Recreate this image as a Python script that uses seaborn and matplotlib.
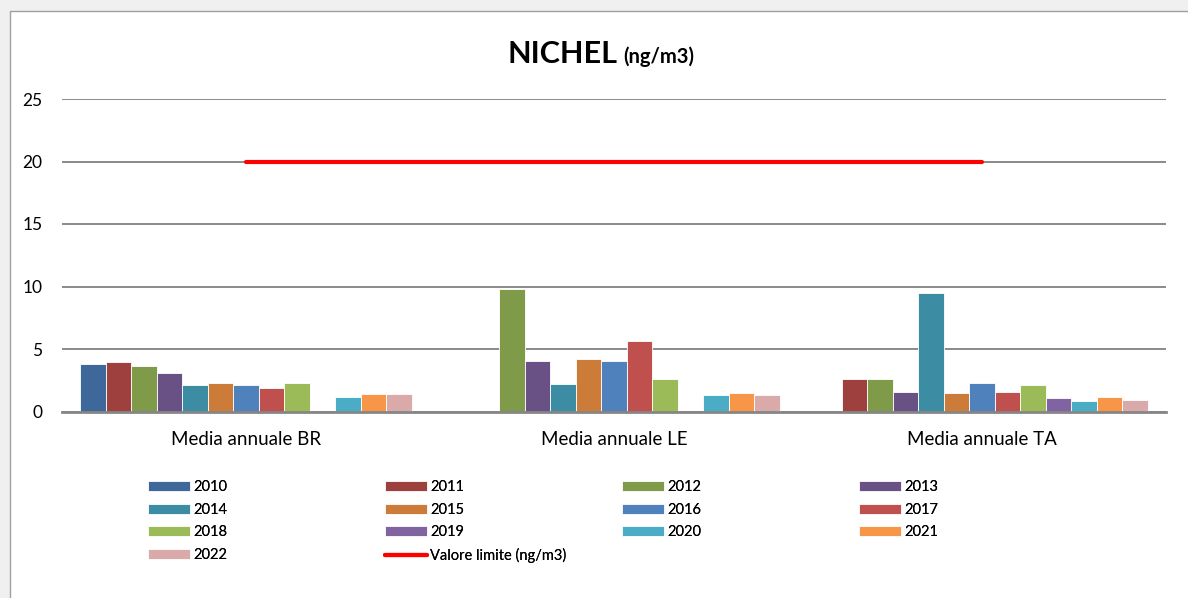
import numpy as np
import pandas as pd
import matplotlib
matplotlib.use("Agg")
import matplotlib.pyplot as plt
from matplotlib.patches import Rectangle
from matplotlib.lines import Line2D
import seaborn as sns

# ---------------- data ----------------
categories = ["Media annuale BR", "Media annuale LE", "Media annuale TA"]
years = ["2010", "2011", "2012", "2013", "2014", "2015", "2016",
         "2017", "2018", "2019", "2020", "2021", "2022"]
nan = np.nan
values_br = [3.8, 4.0, 3.65, 3.05, 2.15, 2.25, 2.15, 1.9, 2.25, nan, 1.15, 1.4, 1.4]
values_le = [nan, nan, 9.8, 4.05, 2.2, 4.2, 4.05, 5.65, 2.6, nan, 1.3, 1.45, 1.3]
values_ta = [nan, 2.6, 2.6, 1.6, 9.5, 1.45, 2.3, 1.6, 2.1, 1.1, 0.85, 1.2, 0.95]
limit_values = [20, 20, 20]
limit_label = "Valore limite (ng/m3)"
colors = ["#3F689A", "#9E413E", "#7F9A48", "#695185", "#3C8DA3", "#CC7B38",
          "#4F81BD", "#C0504D", "#9BBB59", "#8064A2", "#4BACC6", "#F79646",
          "#D9AAA9"]

rows = []
for cat, vals in zip(categories, [values_br, values_le, values_ta]):
    for yr, v in zip(years, vals):
        rows.append({"cat": cat, "year": yr, "val": v})
df = pd.DataFrame(rows)

# ---------------- style ----------------
sns.set_theme(style="white")
plt.rcParams["font.family"] = ["Lato", "DejaVu Sans"]
plt.rcParams["text.color"] = "black"

W, H = 1188, 598
fig = plt.figure(figsize=(W / 100, H / 100), dpi=100)
fig.patch.set_facecolor("#f0f0f0")
# white chart area with grey border
fig.patches.append(Rectangle((10 / W, -0.05), 1.2, (H - 11) / H + 0.05,
                             transform=fig.transFigure, facecolor="white",
                             edgecolor="#a0a0a0", linewidth=1.0, zorder=-10))

ax = fig.add_axes([62 / W, (H - 411.5) / H, (1166 - 62) / W, (411.5 - 99) / H])
ax.set_facecolor("none")

sns.barplot(data=df, x="cat", y="val", hue="year", hue_order=years,
            order=categories, palette=colors, saturation=1, width=0.9,
            errorbar=None, edgecolor="white", linewidth=0.6, ax=ax)
handles, labels = ax.get_legend_handles_labels()

sns.pointplot(x=categories, y=limit_values, color="#ff0000", markers="",
              linestyles="-", linewidth=3.0, ax=ax)
if ax.get_legend() is not None:
    ax.get_legend().remove()

ax.set_ylim(0, 25)
ax.set_xlim(-0.5, 2.5)
ax.set_yticks([0, 5, 10, 15, 20, 25])
ax.yaxis.grid(True, color="#8a8a8a", linewidth=1.4)
ax.set_axisbelow(True)
for s in ["left", "right", "top"]:
    ax.spines[s].set_visible(False)
ax.spines["bottom"].set_color("#868686")
ax.spines["bottom"].set_linewidth(2)
ax.tick_params(axis="both", length=0)
ax.tick_params(axis="y", pad=14, labelsize=12.5, labelcolor="black")
ax.tick_params(axis="x", pad=14, labelsize=13.5, labelcolor="black")
ax.set_xlabel("")
ax.set_ylabel("")

# ---------------- title ----------------
fig.text(508 / W, 1 - 63 / H, "NICHEL", fontsize=22, fontweight="bold",
         ha="left", va="baseline", color="black")
fig.text(623 / W, 1 - 63 / H, "(ng/m3)", fontsize=14.5, fontweight="bold",
         ha="left", va="baseline", color="black")

# ---------------- legend (4 columns, row-major order) ----------------
line_handle = Line2D([], [], color="#ff0000", linewidth=3.0)
all_handles = list(handles) + [line_handle]
all_labels = list(labels) + [limit_label]
col_x = [148, 385, 622, 859]
for c in range(4):
    idx = list(range(c, len(all_handles), 4))
    leg = fig.legend([all_handles[i] for i in idx], [all_labels[i] for i in idx],
                     loc="upper left", bbox_to_anchor=(col_x[c] / W, 1 - 480 / H),
                     frameon=False, borderpad=0, borderaxespad=0,
                     handlelength=2.85, handleheight=0.68, handletextpad=0.25,
                     labelspacing=0.6, fontsize=10.5, labelcolor="black")
    fig.add_artist(leg)

fig.savefig("out.png", dpi=100, facecolor=fig.get_facecolor())
